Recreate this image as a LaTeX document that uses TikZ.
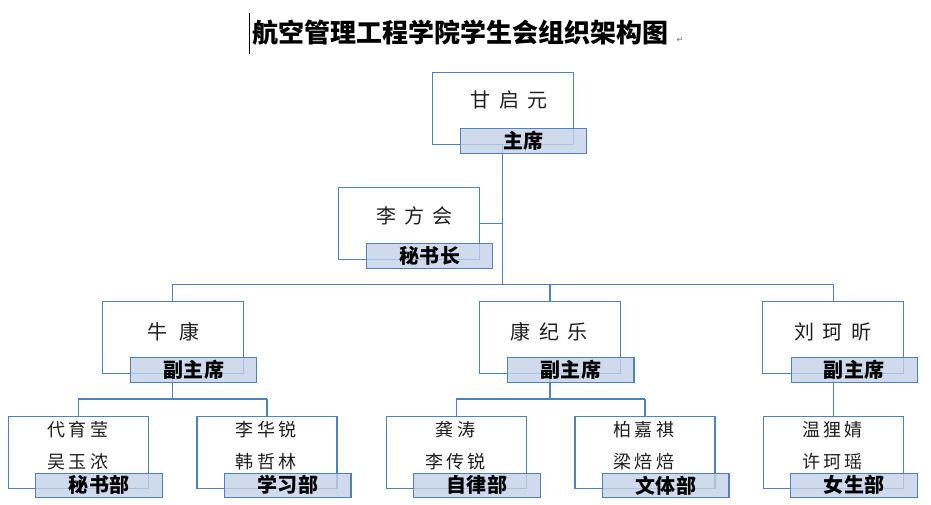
\documentclass[tikz,border=0pt]{standalone}
\usepackage{fontspec}
\newfontfamily\cjk{Noto Sans CJK SC}
\newfontfamily\symfont{DejaVu Sans}
\definecolor{boxblue}{RGB}{79,129,189}
\definecolor{lblfill}{RGB}{196,209,232}
\def\spc#1#2{\def\spcgap{#1}\spcA#2\relax}
\def\spcA#1#2{#1\ifx#2\relax\else\hspace{\spcgap}\expandafter\spcA\expandafter#2\fi}
\tikzset{
  box/.style={draw=boxblue, fill=white, line width=1.1pt, inner sep=0pt,
    minimum width=141pt, minimum height=72pt},
  lbl/.style={draw=boxblue, fill=lblfill, fill opacity=0.8, text opacity=1,
    line width=1.1pt, inner sep=0pt, minimum width=126.5pt, minimum height=25pt,
    font=\cjk\bfseries\fontsize{20pt}{20pt}\selectfont},
  nm/.style={inner sep=0pt, text=black!88, font=\cjk\fontsize{20pt}{20pt}\selectfont},
  nms/.style={inner sep=0pt, text=black!88, font=\cjk\fontsize{18pt}{18pt}\selectfont},
  conn/.style={draw=boxblue, line width=1.3pt},
}
\begin{document}
\begin{tikzpicture}[x=1pt,y=-1pt]
\useasboundingbox (0,0) rectangle (931,505);
% title
\node[inner sep=0pt, font=\cjk\bfseries\fontsize{26pt}{26pt}\selectfont] (title) at (460.5,33) {航空管理工程学院学生会组织架构图};
\coordinate (cur1) at (249,13);
\coordinate (cur2) at (249,54);
\draw[black, line width=0.8pt] (cur1) -- (cur2);
\node[inner sep=0pt, text=black!55, font=\symfont\fontsize{8pt}{8pt}\selectfont] (ret) at (680,40) {↵};
% boxes
\node[box] (b0) at (502.8,108.2) {};
\node[box] (b1) at (408.8,223.2) {};
\node[box] (b2) at (172.8,337.8) {};
\node[box] (b3) at (550,337.8) {};
\node[box] (b4) at (833.3,337.8) {};
\node[box, minimum width=140pt] (d1) at (78.3,452.8) {};
\node[box, minimum width=140pt] (d2) at (267,452.8) {};
\node[box, minimum width=140pt] (d3) at (456.2,452.8) {};
\node[box, minimum width=140pt] (d4) at (645,452.8) {};
\node[box, minimum width=140pt] (d5) at (833.3,452.8) {};
% connectors
\coordinate (hbar) at (0,284.3);
\coordinate (bar) at (0,399);
\draw[conn] (b0 |- b0.south) -- (b0 |- hbar);
\draw[conn] (b1.east) -- (b0 |- b1.east);
\draw[conn] (b2 |- hbar) -- (b4 |- hbar);
\draw[conn] (b2 |- hbar) -- (b2.north);
\draw[conn] (b3 |- hbar) -- (b3.north);
\draw[conn] (b4 |- hbar) -- (b4.north);
\draw[conn] (b2.south) -- (b2 |- bar);
\draw[conn] (d1 |- bar) -- (d2 |- bar);
\draw[conn] (d1 |- bar) -- (d1.north);
\draw[conn] (d2 |- bar) -- (d2.north);
\draw[conn] (b3.south) -- (b3 |- bar);
\draw[conn] (d3 |- bar) -- (d4 |- bar);
\draw[conn] (d3 |- bar) -- (d3.north);
\draw[conn] (d4 |- bar) -- (d4.north);
\draw[conn] (b4.south) -- (d5.north);
% names
\node[nm] (t0) at (509,100) {\spc{8.5pt}{甘启元}};
\node[nm] (t1) at (414,216) {\spc{8pt}{李方会}};
\node[nm] (t2) at (173,331.5) {\spc{12pt}{牛康}};
\node[nm] (t3) at (549,331.5) {\spc{8.5pt}{康纪乐}};
\node[nm] (t4) at (832.5,331.5) {\spc{8.5pt}{刘珂昕}};
\node[nms] (s1a) at (77.7,430) {\spc{3.5pt}{代育莹}};
\node[nms] (s1b) at (77.7,462) {\spc{3.5pt}{吴玉浓}};
\node[nms] (s2a) at (266.3,430) {\spc{3.5pt}{李华锐}};
\node[nms] (s2b) at (266.3,462) {\spc{3.5pt}{韩哲林}};
\node[nms] (s3a) at (455.5,430) {\spc{4pt}{龚涛}};
\node[nms] (s3b) at (455.5,462) {\spc{3.5pt}{李传锐}};
\node[nms] (s4a) at (643.7,430) {\spc{3.5pt}{柏嘉祺}};
\node[nms] (s4b) at (643.7,462) {\spc{3.5pt}{梁焙焙}};
\node[nms] (s5a) at (832.5,430) {\spc{3.5pt}{温狸婧}};
\node[nms] (s5b) at (832.5,462) {\spc{3.5pt}{许珂瑶}};
% labels
\node[lbl] (l0) at (523.5,140.8) {\spc{0.5pt}{主席}};
\node[lbl] (l1) at (429.5,255.8) {\spc{0.5pt}{秘书长}};
\node[lbl] (l2) at (193.5,370.2) {\spc{0.5pt}{副主席}};
\node[lbl] (l3) at (570.7,370.2) {\spc{0.5pt}{副主席}};
\node[lbl] (l4) at (854.3,370.2) {\spc{0.5pt}{副主席}};
\node[lbl, minimum height=24pt] (k1) at (99,485.3) {\spc{0.5pt}{秘书部}};
\node[lbl, minimum height=24pt] (k2) at (287.7,485.3) {\spc{0.5pt}{学习部}};
\node[lbl, minimum height=24pt] (k3) at (476.9,485.3) {\spc{0.5pt}{自律部}};
\node[lbl, minimum height=24pt] (k4) at (665.7,485.3) {\spc{0.5pt}{文体部}};
\node[lbl, minimum height=24pt] (k5) at (854,485.3) {\spc{0.5pt}{女生部}};
\end{tikzpicture}
\end{document}
